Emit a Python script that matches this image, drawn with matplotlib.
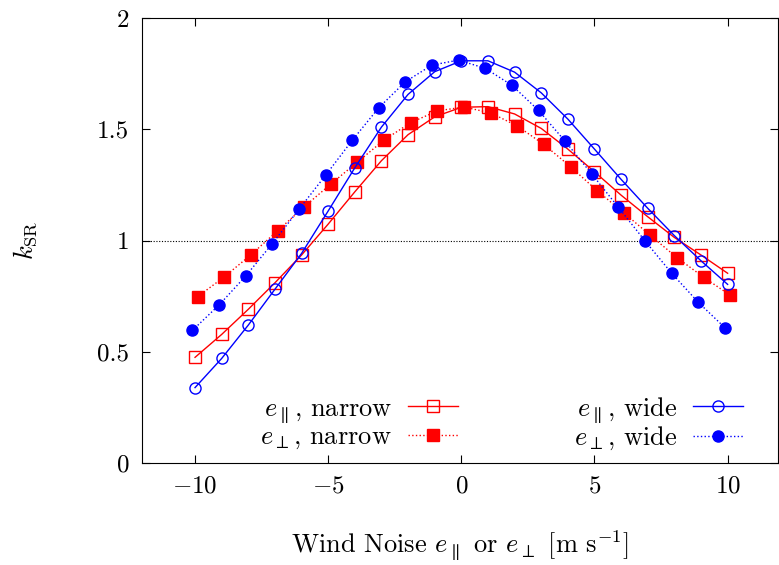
import matplotlib
matplotlib.use('Agg')
import matplotlib.pyplot as plt
import numpy as np

plt.rcParams['font.family'] = 'serif'
plt.rcParams['font.serif'] = ['cmr10']
plt.rcParams['mathtext.fontset'] = 'cm'
plt.rcParams['axes.formatter.use_mathtext'] = True
plt.rcParams['axes.unicode_minus'] = True

# Datos
viento = np.arange(-10, 11)
par_estrecho = [0.475, 0.578, 0.691, 0.810, 0.935, 1.074, 1.219, 1.359, 1.476, 1.556, 1.599,
                1.602, 1.569, 1.504, 1.411, 1.309, 1.204, 1.107, 1.014, 0.935, 0.853]
perp_estrecho = [0.748, 0.837, 0.936, 1.044, 1.152, 1.254, 1.353, 1.452, 1.530, 1.583, 1.600,
                 1.574, 1.515, 1.432, 1.332, 1.224, 1.125, 1.023, 0.923, 0.835, 0.754]
par_ancho = [0.339, 0.470, 0.620, 0.781, 0.942, 1.133, 1.327, 1.510, 1.657, 1.759, 1.808,
             1.808, 1.757, 1.664, 1.546, 1.411, 1.275, 1.145, 1.022, 0.909, 0.803]
perp_ancho = [0.596, 0.710, 0.840, 0.986, 1.140, 1.293, 1.450, 1.597, 1.714, 1.789, 1.811,
              1.774, 1.698, 1.585, 1.446, 1.299, 1.149, 0.998, 0.853, 0.722, 0.608]
desplazamiento = 0.1

fig = plt.figure(figsize=(7.79, 5.65), dpi=100)
ax = fig.add_axes([0.182, 0.1805, 0.817, 0.7875])

ax.axhline(1, color='black', lw=0.8, ls=(0, (1, 1.5)))

ax.plot(viento, par_estrecho, color='red', lw=1, marker='s', ms=8, mfc='none',
        mew=1, label=r'$e_\parallel$, narrow')
ax.plot(viento + desplazamiento, perp_estrecho, color='red', lw=1, ls=':', marker='s',
        ms=8, label=r'$e_\perp$, narrow')
ax.plot(viento, par_ancho, color='blue', lw=1, marker='o', ms=8, mfc='none',
        mew=1, label=r'$e_\parallel$, wide')
ax.plot(viento - desplazamiento, perp_ancho, color='blue', lw=1, ls=':', marker='o',
        ms=8, label=r'$e_\perp$, wide')

ax.set_xlim(-12, 11.9)
ax.set_ylim(0, 2)
ax.set_xticks([-10, -5, 0, 5, 10])
ax.set_yticks([0, 0.5, 1, 1.5, 2])
ax.set_yticklabels(['0', '0.5', '1', '1.5', '2'])
ax.tick_params(direction='in', top=True, right=True, length=6, labelsize=18, pad=9)
ax.set_xlabel(r'Wind Noise $e_\parallel$ or $e_\perp$ [m s$^{-1}$]', fontsize=19, labelpad=22)
ax.set_ylabel(r'$k_{\mathrm{SR}}$', fontsize=19, labelpad=42)

ax.legend(ncol=2, loc='lower right', frameon=False, markerfirst=False, fontsize=19,
          handlelength=1.9, columnspacing=4.4, labelspacing=0.0, borderaxespad=0.0,
          handletextpad=0.6, bbox_to_anchor=(0.962, 0.0))

fig.savefig('out.png', dpi=100)
